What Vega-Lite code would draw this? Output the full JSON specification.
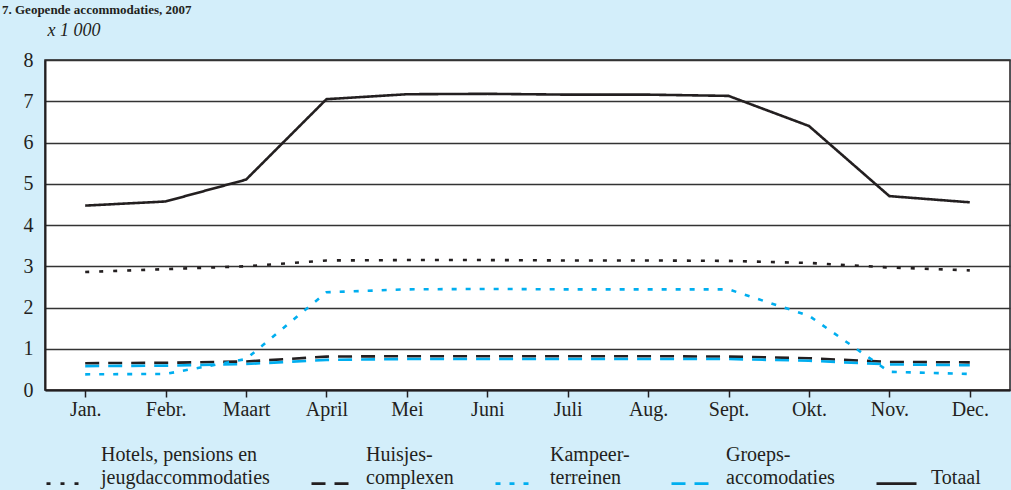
{
  "$schema": "https://vega.github.io/schema/vega-lite/v6.json",
  "autosize": {"type": "none"},
  "width": 965,
  "height": 330,
  "padding": {"left": 45, "top": 60, "right": 1, "bottom": 100},
  "background": "#d3eefa",
  "title": {
    "text": "7. Geopende accommodaties, 2007",
    "anchor": "start",
    "dx": -21,
    "offset": 4,
    "font": "Liberation Serif",
    "fontSize": 13,
    "fontWeight": "bold",
    "color": "#231f20"
  },
  "config": {
    "view": {"fill": "white", "stroke": "#231f20", "strokeWidth": 1.5},
    "font": "Liberation Serif",
    "style": {"guide-label": {"font": "Liberation Serif", "lineHeight": -23}}
  },
  "data": {
    "values": [
      {"month": "Jan.", "series": "Hotels", "value": 2.86},
      {"month": "Febr.", "series": "Hotels", "value": 2.93},
      {"month": "Maart", "series": "Hotels", "value": 3.0},
      {"month": "April", "series": "Hotels", "value": 3.14},
      {"month": "Mei", "series": "Hotels", "value": 3.15},
      {"month": "Juni", "series": "Hotels", "value": 3.15},
      {"month": "Juli", "series": "Hotels", "value": 3.14},
      {"month": "Aug.", "series": "Hotels", "value": 3.14},
      {"month": "Sept.", "series": "Hotels", "value": 3.13},
      {"month": "Okt.", "series": "Hotels", "value": 3.08},
      {"month": "Nov.", "series": "Hotels", "value": 2.97},
      {"month": "Dec.", "series": "Hotels", "value": 2.9},
      {"month": "Jan.", "series": "Huisjes", "value": 0.65},
      {"month": "Febr.", "series": "Huisjes", "value": 0.66},
      {"month": "Maart", "series": "Huisjes", "value": 0.69},
      {"month": "April", "series": "Huisjes", "value": 0.81},
      {"month": "Mei", "series": "Huisjes", "value": 0.82},
      {"month": "Juni", "series": "Huisjes", "value": 0.82},
      {"month": "Juli", "series": "Huisjes", "value": 0.82},
      {"month": "Aug.", "series": "Huisjes", "value": 0.82},
      {"month": "Sept.", "series": "Huisjes", "value": 0.81},
      {"month": "Okt.", "series": "Huisjes", "value": 0.77},
      {"month": "Nov.", "series": "Huisjes", "value": 0.68},
      {"month": "Dec.", "series": "Huisjes", "value": 0.67},
      {"month": "Jan.", "series": "Kampeer", "value": 0.38},
      {"month": "Febr.", "series": "Kampeer", "value": 0.39},
      {"month": "Maart", "series": "Kampeer", "value": 0.75},
      {"month": "April", "series": "Kampeer", "value": 2.37},
      {"month": "Mei", "series": "Kampeer", "value": 2.44},
      {"month": "Juni", "series": "Kampeer", "value": 2.45},
      {"month": "Juli", "series": "Kampeer", "value": 2.44},
      {"month": "Aug.", "series": "Kampeer", "value": 2.44},
      {"month": "Sept.", "series": "Kampeer", "value": 2.44},
      {"month": "Okt.", "series": "Kampeer", "value": 1.8},
      {"month": "Nov.", "series": "Kampeer", "value": 0.44},
      {"month": "Dec.", "series": "Kampeer", "value": 0.39},
      {"month": "Jan.", "series": "Groeps", "value": 0.58},
      {"month": "Febr.", "series": "Groeps", "value": 0.59},
      {"month": "Maart", "series": "Groeps", "value": 0.63},
      {"month": "April", "series": "Groeps", "value": 0.73},
      {"month": "Mei", "series": "Groeps", "value": 0.75},
      {"month": "Juni", "series": "Groeps", "value": 0.75},
      {"month": "Juli", "series": "Groeps", "value": 0.75},
      {"month": "Aug.", "series": "Groeps", "value": 0.75},
      {"month": "Sept.", "series": "Groeps", "value": 0.75},
      {"month": "Okt.", "series": "Groeps", "value": 0.71},
      {"month": "Nov.", "series": "Groeps", "value": 0.62},
      {"month": "Dec.", "series": "Groeps", "value": 0.6},
      {"month": "Jan.", "series": "Totaal", "value": 4.47},
      {"month": "Febr.", "series": "Totaal", "value": 4.57},
      {"month": "Maart", "series": "Totaal", "value": 5.1},
      {"month": "April", "series": "Totaal", "value": 7.05},
      {"month": "Mei", "series": "Totaal", "value": 7.17},
      {"month": "Juni", "series": "Totaal", "value": 7.18},
      {"month": "Juli", "series": "Totaal", "value": 7.16},
      {"month": "Aug.", "series": "Totaal", "value": 7.16},
      {"month": "Sept.", "series": "Totaal", "value": 7.13},
      {"month": "Okt.", "series": "Totaal", "value": 6.4},
      {"month": "Nov.", "series": "Totaal", "value": 4.7},
      {"month": "Dec.", "series": "Totaal", "value": 4.55}
    ]
  },
  "mark": {"type": "line", "strokeWidth": 2.6},
  "encoding": {
    "x": {
      "field": "month",
      "type": "ordinal",
      "sort": ["Jan.", "Febr.", "Maart", "April", "Mei", "Juni", "Juli", "Aug.", "Sept.", "Okt.", "Nov.", "Dec."],
      "scale": {"type": "point", "padding": 0.5},
      "axis": {
        "title": null,
        "labelAngle": 0,
        "labelFont": "Liberation Serif",
        "labelFontSize": 20,
        "labelColor": "#231f20",
        "labelPadding": 2,
        "tickSize": 7,
        "tickColor": "#231f20",
        "tickWidth": 1.5,
        "domainColor": "#231f20",
        "domainWidth": 2,
        "grid": false
      }
    },
    "y": {
      "field": "value",
      "type": "quantitative",
      "scale": {"domain": [0, 8], "nice": false},
      "axis": {
        "title": "x 1 000",
        "titleFont": "Liberation Serif",
        "titleAngle": 0,
        "titleAlign": "left",
        "titleBaseline": "middle",
        "titleX": 2,
        "titleY": -30,
        "titleFontStyle": "italic",
        "titleFontWeight": "normal",
        "titleFontSize": 18,
        "titleColor": "#231f20",
        "values": [0, 1, 2, 3, 4, 5, 6, 7, 8],
        "labelFont": "Liberation Serif",
        "labelFontSize": 20,
        "labelColor": "#231f20",
        "labelPadding": 12,
        "ticks": false,
        "domainColor": "#231f20",
        "domainWidth": 2,
        "gridColor": "#333333",
        "gridWidth": 1.5
      }
    },
    "color": {
      "field": "series",
      "type": "nominal",
      "scale": {
        "domain": ["Hotels", "Huisjes", "Kampeer", "Groeps", "Totaal"],
        "range": ["#231f20", "#231f20", "#00aeef", "#00aeef", "#231f20"]
      },
      "legend": {
        "title": null,
        "orient": "bottom",
        "direction": "horizontal",
        "columns": 5,
        "offset": 43,
        "symbolType": "stroke",
        "symbolSize": 1600,
        "symbolStrokeWidth": 2.6,
        "labelFont": "Liberation Serif",
        "labelFontSize": 20,
        "labelColor": "#231f20",
        "labelLimit": 400,
        "labelOffset": 13,
        "labelBaseline": "alphabetic",
        "columnPadding": 36,
        "padding": 0,
        "labelExpr": "datum.label == 'Hotels' ? ['jeugdaccommodaties', 'Hotels, pensions en'] : datum.label == 'Huisjes' ? ['complexen', 'Huisjes-'] : datum.label == 'Kampeer' ? ['terreinen', 'Kampeer-'] : datum.label == 'Groeps' ? ['accomodaties', 'Groeps-'] : 'Totaal'"
      }
    },
    "strokeDash": {
      "field": "series",
      "type": "nominal",
      "scale": {
        "domain": ["Hotels", "Huisjes", "Kampeer", "Groeps", "Totaal"],
        "range": [[4, 10], [14, 9], [5, 9], [14, 9], [1, 0]]
      },
      "legend": null
    }
  }
}
